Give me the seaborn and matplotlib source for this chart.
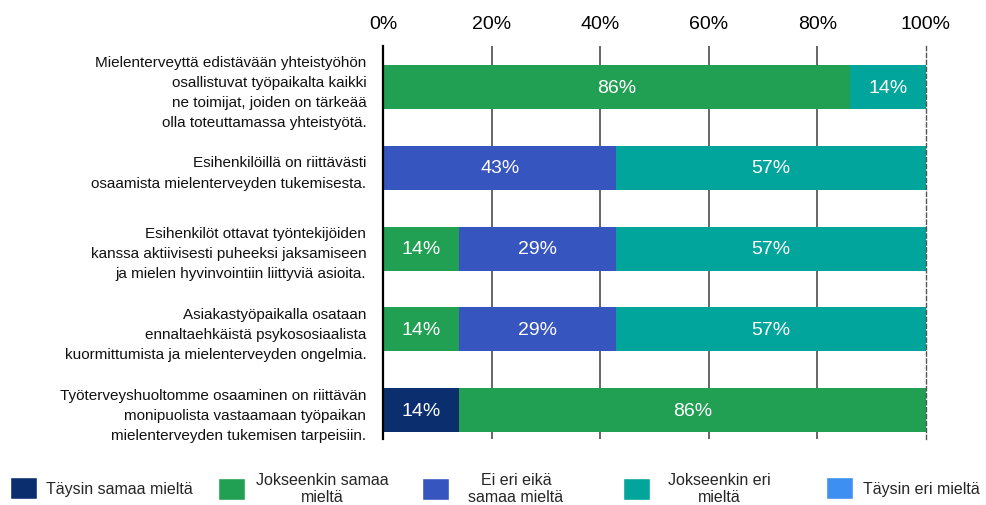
import pandas as pd
import matplotlib.pyplot as plt
import seaborn as sns
from matplotlib.patches import Patch

# Data
statements = [
    "Mielenterveyttä edistävään yhteistyöhön\nosallistuvat työpaikalta kaikki\nne toimijat, joiden on tärkeää\nolla toteuttamassa yhteistyötä.",
    "Esihenkilöillä on riittävästi\nosaamista mielenterveyden tukemisesta.",
    "Esihenkilöt ottavat työntekijöiden\nkanssa aktiivisesti puheeksi jaksamiseen\nja mielen hyvinvointiin liittyviä asioita.",
    "Asiakastyöpaikalla osataan\nennaltaehkäistä psykososiaalista\nkuormittumista ja mielenterveyden ongelmia.",
    "Työterveyshuoltomme osaaminen on riittävän\nmonipuolista vastaamaan työpaikan\nmielenterveyden tukemisen tarpeisiin.",
]
responses = [
    "Täysin samaa mieltä",
    "Jokseenkin samaa\nmieltä",
    "Ei eri eikä\nsamaa mieltä",
    "Jokseenkin eri\nmieltä",
    "Täysin eri mieltä",
]
colors = ["#0b2f6e", "#21a053", "#3755bf", "#02a59b", "#3d8ff2"]

taysin_samaa = [0, 0, 0, 0, 14]
jokseenkin_samaa = [86, 0, 14, 14, 86]
ei_eri_eika = [0, 43, 29, 29, 0]
jokseenkin_eri = [14, 57, 57, 57, 0]
taysin_eri = [0, 0, 0, 0, 0]

cols = ["ts", "js", "ee", "je", "te"]
df = pd.DataFrame({
    "statement": statements,
    "ts": taysin_samaa,
    "js": jokseenkin_samaa,
    "ee": ei_eri_eika,
    "je": jokseenkin_eri,
    "te": taysin_eri,
})
cum = df[cols].cumsum(axis=1)

sns.set_theme(style="white")
plt.rcParams['font.family'] = ['Liberation Sans', 'DejaVu Sans']

fig = plt.figure(figsize=(9.86, 5.06), dpi=100)
ax = fig.add_axes([0.3884, 0.130, 0.5507, 0.777])

# -------------------------
# Stacked bars (layered cumulative)
# -------------------------
for col, c in reversed(list(zip(cols, colors))):
    sns.barplot(x=cum[col], y=df["statement"], color=c, saturation=1,
                width=0.545, orient="h", errorbar=None, ax=ax, zorder=2,
                linewidth=0)

for i in range(len(df)):
    for col in cols:
        v = df.loc[i, col]
        if v > 0:
            center = cum.loc[i, col] - v / 2
            ax.text(center, i, f"{v}%", ha="center", va="center",
                    color="white", fontsize=14, zorder=3)

# grid lines
for gx in [20, 40, 60, 80]:
    ax.axvline(gx, color="#4d4d4d", lw=1.2, zorder=0)

ax.set_xlim(0, 100)
ax.set_ylim(4.36, -0.51)
ax.set_xticks([0, 20, 40, 60, 80, 100])
ax.set_xticklabels(["0%", "20%", "40%", "60%", "80%", "100%"])
ax.xaxis.tick_top()
ax.tick_params(axis="x", length=0, pad=10, labelsize=14, colors="black")
ax.tick_params(axis="y", length=0, pad=12, labelsize=11, colors="#111111")
for lbl in ax.get_yticklabels():
    lbl.set_linespacing(1.55)
ax.set_xlabel("")
ax.set_ylabel("")

for s in ["top", "bottom"]:
    ax.spines[s].set_visible(False)
ax.spines["left"].set_color("black")
ax.spines["left"].set_linewidth(1.6)
ax.spines["right"].set_color("#555555")
ax.spines["right"].set_linestyle((0, (3, 2)))
ax.spines["right"].set_linewidth(1.0)

# -------------------------
# Legend (one entry per slot)
# -------------------------
slots = [10, 218, 422, 623, 826]
pads = [0.55, 0.7, 1.2, 1.1, 0.6]
for c, lab, sx, pd_ in zip(colors, responses, slots, pads):
    leg = fig.legend([Patch(facecolor=c)], [lab], loc="center left",
                     bbox_to_anchor=(sx / 986, 1 - 489 / 506),
                     frameon=False, fontsize=11.5, borderpad=0,
                     borderaxespad=0, handlelength=1.7, handleheight=1.7,
                     handletextpad=pd_)
    for t in leg.get_texts():
        t.set_multialignment("center")
        t.set_linespacing(1.15)

plt.savefig("out.png", dpi=100)
plt.close()
